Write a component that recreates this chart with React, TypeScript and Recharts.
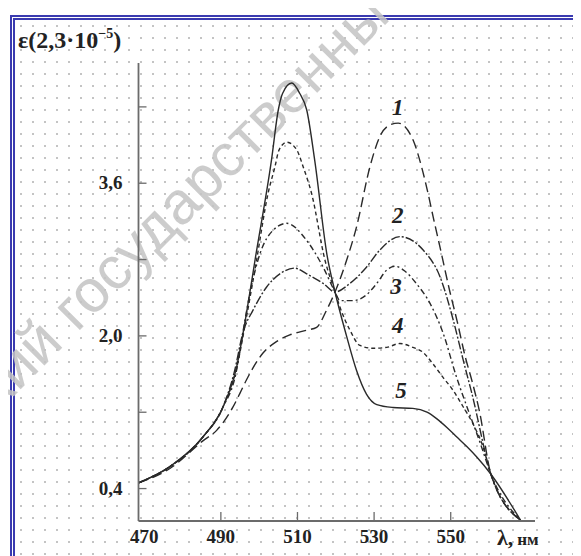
import React from "react";
import { LineChart, Line, XAxis, YAxis, ReferenceDot } from "recharts";

// curve 1 (long dash)
const curve1Lambda = [468.5, 476.7, 485.3, 488.9, 493.1, 495, 496.7, 501, 504.5, 508, 512.4, 515, 517.6, 519.8, 522.8, 525.4, 528.9, 531.5, 534.1, 536.3, 540.2, 542.4, 544.1, 545.4, 547.2, 549.8, 551.7, 553.8, 555.6, 557.5, 560.5, 568.2];
const curve1Eps = [0.46, 0.61, 0.9, 1.01, 1.25, 1.4, 1.54, 1.82, 1.94, 2.01, 2.06, 2.09, 2.27, 2.46, 2.79, 3.14, 3.77, 4.09, 4.21, 4.23, 4.05, 3.77, 3.49, 3.25, 2.93, 2.46, 2.15, 1.78, 1.52, 1.21, 0.55, 0.07];

// curve 2
const curve2Lambda = [468.5, 476.7, 485.3, 490.5, 493.5, 495.8, 498.4, 501.9, 505.4, 509.3, 512.4, 516.7, 519.8, 523.7, 528, 531.5, 536.7, 542.8, 547.2, 550.7, 553.3, 555.5, 560.5, 568.2];
const curve2Eps = [0.46, 0.63, 0.94, 1.25, 1.62, 2.04, 2.27, 2.51, 2.65, 2.71, 2.65, 2.55, 2.46, 2.55, 2.72, 2.9, 3.04, 2.9, 2.62, 2.16, 1.74, 1.4, 0.55, 0.07];

// curve 3
const curve3Lambda = [468.5, 476.7, 485.3, 490.5, 494, 495.8, 497.6, 500.2, 503.7, 507.2, 512.4, 516.7, 519.8, 521.1, 524.5, 528, 530.7, 533.3, 535.5, 538, 541, 544.6, 548, 551.5, 554.2, 557.5, 560.5, 568.2];
const curve3Eps = [0.46, 0.63, 0.94, 1.25, 1.62, 2.05, 2.45, 2.86, 3.11, 3.18, 3.0, 2.72, 2.46, 2.37, 2.37, 2.43, 2.55, 2.69, 2.73, 2.68, 2.55, 2.34, 2.03, 1.57, 1.26, 0.9, 0.55, 0.07];

// curve 4 (short dash)
const curve4Lambda = [468.5, 476.7, 485.3, 490.5, 494.1, 496.7, 499.3, 502.3, 504.1, 505.2, 507.2, 509.8, 511.5, 513.7, 517.2, 519.8, 521.1, 523.7, 526.3, 529.7, 533.3, 536.7, 540.1, 542.7, 545.3, 547.9, 550.6, 553.2, 555.8, 558.4, 560.5, 568.2];
const curve4Eps = [0.46, 0.63, 0.94, 1.25, 1.66, 2.2, 2.79, 3.49, 3.77, 3.95, 4.03, 3.95, 3.77, 3.49, 2.79, 2.46, 2.3, 2.06, 1.9, 1.87, 1.88, 1.92, 1.88, 1.83, 1.71, 1.57, 1.43, 1.26, 1.08, 0.84, 0.55, 0.07];

// curve 5 (solid)
const curve5Lambda = [468.5, 476.7, 485.3, 490.5, 494.1, 496.7, 498.9, 503.2, 505, 506.1, 508.5, 510.6, 512.4, 514.5, 517.7, 519.8, 522.8, 525.4, 528, 530.7, 534.9, 540.1, 543.8, 546.4, 549, 551.6, 554.2, 556.8, 560.5, 568.2];
const curve5Eps = [0.46, 0.63, 0.94, 1.25, 1.67, 2.24, 2.79, 3.84, 4.37, 4.54, 4.65, 4.54, 4.37, 3.84, 2.85, 2.46, 2.0, 1.64, 1.39, 1.28, 1.25, 1.24, 1.2, 1.13, 1.04, 0.94, 0.84, 0.73, 0.55, 0.07];

const curveNames = ["1", "2", "3", "4", "5"];
const labelLambda = [536.2, 536.2, 535.7, 536.2, 537];
const labelEps = [4.39, 3.26, 2.52, 2.11, 1.43];

const xTicks = [470, 490, 510, 530, 550];
const yTicks = [0.4, 1.2, 2.0, 2.8, 3.6, 4.4];
const yTickLabels = ["0,4", "", "2,0", "", "3,6", ""];

const zip = (l: number[], e: number[]) => l.map((x, i) => ({ lambda: x, eps: e[i] }));

const series = [
  { data: zip(curve1Lambda, curve1Eps), dash: "10 5" },
  { data: zip(curve2Lambda, curve2Eps), dash: "9 2 2 2" },
  { data: zip(curve3Lambda, curve3Eps), dash: "6 3 2 3" },
  { data: zip(curve4Lambda, curve4Eps), dash: "4 3" },
  { data: zip(curve5Lambda, curve5Eps), dash: undefined },
];

const serif = "'Liberation Serif', 'DejaVu Serif', serif";
const ink = "#222";
const axisGray = "#6b6b6b";

function YTick(props: any) {
  const { x, y, index } = props;
  const label = yTickLabels[index];
  return (
    <g>
      <line x1={x + 16} x2={x + 24} y1={y} y2={y} stroke={axisGray} strokeWidth={1.3} />
      {label && (
        <text x={x} y={y + 6} textAnchor="end" fontFamily={serif} fontSize={19} fontWeight={700} fill={ink}>
          {label}
        </text>
      )}
    </g>
  );
}

function XTick(props: any) {
  const { x, y, payload } = props;
  return (
    <g>
      {payload.value !== 470 && <line x1={x} x2={x} y1={y} y2={y - 9} stroke={axisGray} strokeWidth={1.3} />}
      <text x={x} y={y + 22} textAnchor="middle" fontFamily={serif} fontSize={19} fontWeight={700} fill={ink}>
        {payload.value}
      </text>
    </g>
  );
}

export default function App() {
  return (
    <div style={{ position: "relative", width: 573, height: 548, overflow: "hidden", background: "#fff" }}>
      <div
        style={{
          position: "absolute",
          left: 1.5,
          top: 6.5,
          width: 700,
          height: 700,
          borderTop: "5px double #3a3ab0",
          borderLeft: "5px double #3a3ab0",
          backgroundImage: "radial-gradient(circle, #c4c4c4 0.9px, transparent 1.2px)",
          backgroundSize: "12px 12px",
        }}
      />
      <svg width={573} height={548} style={{ position: "absolute", left: 0, top: 0 }}>
        <text
          transform="translate(-30,424) rotate(-45)"
          fontFamily="'Liberation Sans', Arial, sans-serif"
          fontSize={60}
          fill="#c4c4c4"
          opacity={0.85}
        >
          ский государственны
        </text>
      </svg>
      <div style={{ position: "absolute", left: 0, top: 0 }}>
        <LineChart width={573} height={548} margin={{ top: 55, right: 46, bottom: 5, left: 0 }}>
          <XAxis
            type="number"
            dataKey="lambda"
            domain={[468.5, 572]}
            ticks={xTicks}
            interval={0}
            height={30}
            tickSize={0}
            tickMargin={0}
            tick={<XTick />}
            axisLine={{ stroke: axisGray, strokeWidth: 1.8 }}
          />
          <YAxis
            type="number"
            dataKey="eps"
            domain={[0.06, 4.86]}
            ticks={yTicks}
            interval={0}
            width={130.5}
            tickSize={0}
            tickMargin={16}
            tick={<YTick />}
            axisLine={{ stroke: axisGray, strokeWidth: 1.8 }}
          />
          {series.map((s, i) => (
            <Line
              key={curveNames[i]}
              data={s.data}
              dataKey="eps"
              type="monotone"
              stroke="#2a2a2a"
              strokeWidth={1.4}
              strokeDasharray={s.dash}
              dot={false}
              activeDot={false}
              isAnimationActive={false}
            />
          ))}
          {curveNames.map((n, i) => (
            <ReferenceDot
              key={"lbl" + n}
              x={labelLambda[i]}
              y={labelEps[i]}
              r={0}
              ifOverflow="visible"
              shape={(p: any) => (
                <text
                  x={p.cx}
                  y={p.cy}
                  textAnchor="middle"
                  dominantBaseline="central"
                  fontFamily={serif}
                  fontStyle="italic"
                  fontWeight={700}
                  fontSize={23}
                  fill={ink}
                >
                  {n}
                </text>
              )}
            />
          ))}
        </LineChart>
      </div>
      <svg width={573} height={548} style={{ position: "absolute", left: 0, top: 0, pointerEvents: "none" }}>
        <text x={10} y={40} fontFamily={serif} fontSize={24} fontWeight={700} fill={ink}>
          ε(2,3·10
          <tspan dy={-10} fontSize={14}>
            −5
          </tspan>
          <tspan dy={10}>)</tspan>
        </text>
        <text x={489} y={537} fontFamily={serif} fontWeight={700} fill={ink}>
          <tspan fontSize={22}>λ,</tspan>
          <tspan fontSize={17} dx={4}>
            нм
          </tspan>
        </text>
      </svg>
    </div>
  );
}
